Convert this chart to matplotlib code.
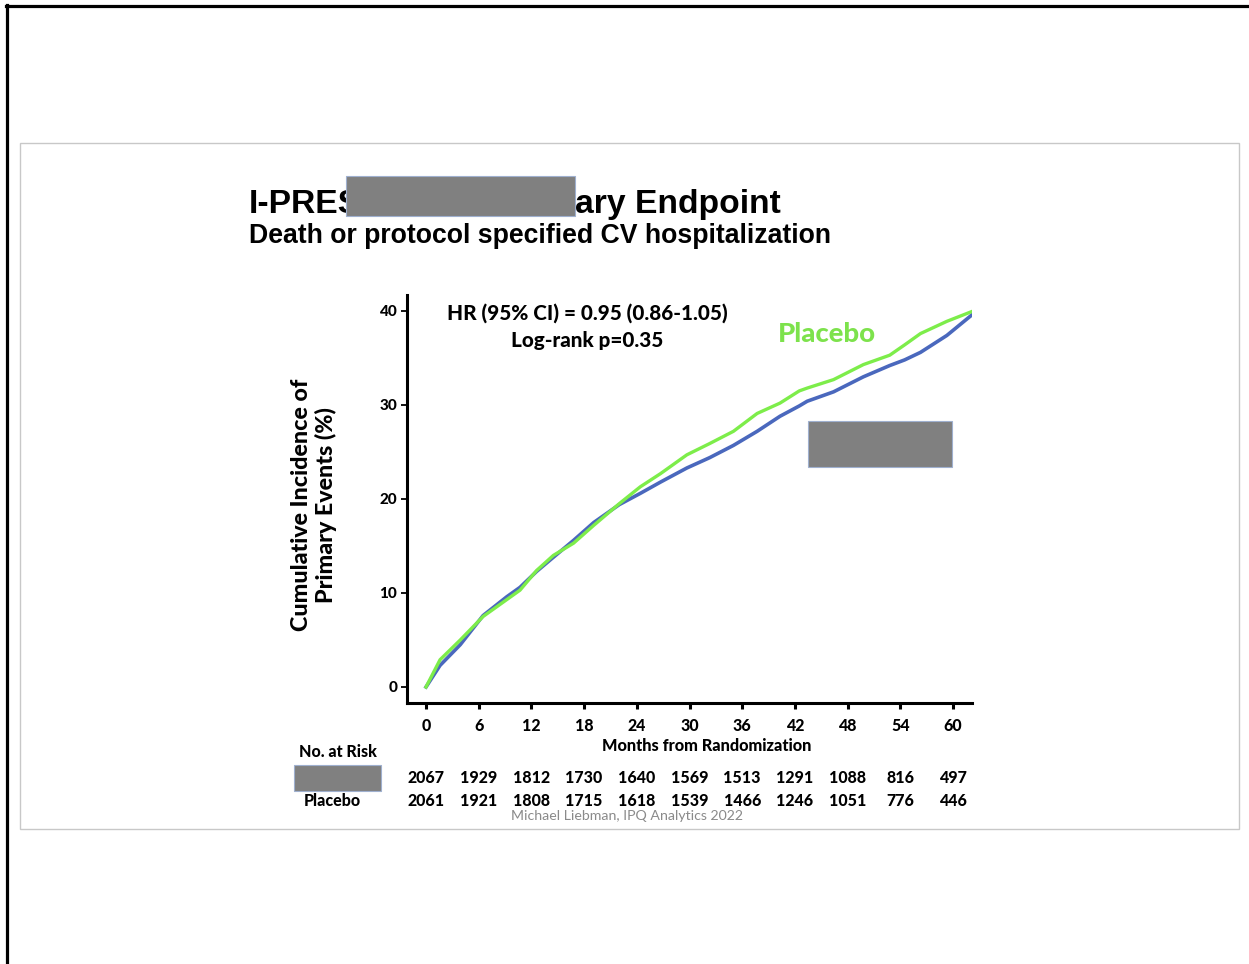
import matplotlib
matplotlib.use("Agg")
import matplotlib.pyplot as plt
from matplotlib.patches import Rectangle
from matplotlib.lines import Line2D
import matplotlib.transforms as mtransforms

# ---------------- data ----------------
months_placebo = [0, 1.6, 3.9, 6.5, 9.2, 10.7, 12.6, 14.5, 16.8, 19.1, 22.0, 24.4, 26.7,
                  29.7, 32.3, 35.0, 37.7, 40.3, 42.5, 43.4, 46.4, 49.8, 52.8, 54.5, 56.3, 59.3, 62.3]
placebo = [0, 2.9, 5.0, 7.5, 9.3, 10.3, 12.4, 14.0, 15.3, 17.2, 19.5, 21.3, 22.7,
           24.7, 25.9, 27.2, 29.1, 30.2, 31.5, 31.8, 32.7, 34.3, 35.3, 36.4, 37.6, 38.9, 40.0]
months_active = [0, 1.6, 3.9, 6.5, 9.2, 10.7, 12.6, 14.5, 16.8, 19.1, 22.0, 24.4, 26.7,
                 29.7, 32.3, 35.0, 37.7, 40.3, 42.5, 43.4, 46.4, 49.8, 52.8, 54.5, 56.3, 59.3, 62.3]
active = [0, 2.3, 4.5, 7.6, 9.6, 10.6, 12.3, 13.8, 15.6, 17.5, 19.4, 20.6, 21.8,
          23.3, 24.4, 25.7, 27.2, 28.8, 29.9, 30.4, 31.4, 33.0, 34.2, 34.8, 35.6, 37.4, 39.7]

x_ticks = [0, 6, 12, 18, 24, 30, 36, 42, 48, 54, 60]
y_ticks = [0, 10, 20, 30, 40]
risk_active = [2067, 1929, 1812, 1730, 1640, 1569, 1513, 1291, 1088, 816, 497]
risk_placebo = [2061, 1921, 1808, 1715, 1618, 1539, 1466, 1246, 1051, 776, 446]

title_left = "I-PRES"
title_right = "ary Endpoint"
subtitle = "Death or protocol specified CV hospitalization"
hr_text = "HR (95% CI) = 0.95 (0.86-1.05)"
logrank_text = "Log-rank p=0.35"
ylabel_text = "Cumulative Incidence of\nPrimary Events (%)"
xlabel_text = "Months from Randomization"
footer = "Michael Liebman, IPQ Analytics 2022"

# ---------------- figure ----------------
W, H = 1249, 964
fig = plt.figure(figsize=(W / 100, H / 100), dpi=100)
fig.patch.set_facecolor("white")


def fx(x):
    return x / W


def fy(y):
    return 1 - y / H


renderer = fig.canvas.get_renderer()


def fit_width(t, target):
    bb = t.get_window_extent(renderer)
    t.set_fontsize(t.get_fontsize() * target / bb.width)


def fit_height(t, target):
    bb = t.get_window_extent(renderer)
    t.set_fontsize(t.get_fontsize() * target / bb.height)


CAL = ["Lato", "DejaVu Sans"]
ARI = ["Liberation Sans", "DejaVu Sans"]
HW = 900  # heavy weight for Calibri-bold look

# frame lines
fig.add_artist(Line2D([fx(6), 1], [fy(6), fy(6)], color="black", lw=2.3))
fig.add_artist(Line2D([fx(7), fx(7)], [fy(5), 0], color="black", lw=2.3))
fig.add_artist(Rectangle((fx(20), fy(829)), fx(1239) - fx(20), (829 - 143) / H,
                         fill=False, edgecolor="#c8c8c8", lw=1.0))

# ---------------- axes ----------------
pxm = (953 - 426) / 60.0
pxv = (687 - 311) / 40.0
ax = fig.add_axes([fx(407), fy(703), (972 - 407) / W, (703 - 295) / H])
ax.set_xlim((407 - 426) / pxm, (972 - 426) / pxm)
ax.set_ylim((687 - 703) / pxv, (687 - 295) / pxv)
ax.plot(months_active, active, color="#4a68bd", lw=2.6, zorder=3, solid_joinstyle="round")
ax.plot(months_placebo, placebo, color="#7ded4a", lw=2.4, zorder=4, solid_joinstyle="round")

for s in ["top", "right"]:
    ax.spines[s].set_visible(False)
for s in ["left", "bottom"]:
    ax.spines[s].set_linewidth(2.2)
    ax.spines[s].set_color("black")

ax.set_xticks(x_ticks)
ax.set_xticklabels([str(v) for v in x_ticks], fontfamily=CAL, fontweight=HW, fontsize=11.5)
ax.set_yticks(y_ticks)
ax.set_yticklabels([str(v) for v in y_ticks], fontfamily=CAL, fontweight=HW, fontsize=11)
ax.tick_params(axis="x", direction="out", length=4, width=2.2, pad=6.5)
ax.tick_params(axis="y", direction="out", length=4, width=1.3, pad=3)

# ---------------- texts ----------------
t = fig.text(fx(249), fy(213), title_left, fontfamily=ARI, fontweight="bold",
             fontsize=26, ha="left", va="baseline")
t2 = fig.text(fx(781), fy(213), title_right, fontfamily=ARI, fontweight="bold",
              fontsize=26, ha="right", va="baseline")
fit_width(t2, 206)
t.set_fontsize(t2.get_fontsize())

st = fig.text(fx(249), fy(243), subtitle, fontfamily=ARI, fontweight="bold",
              fontsize=18, ha="left", va="baseline")
fit_width(st, 583)

hr = fig.text(fx(587), fy(313), hr_text, fontfamily=CAL, fontweight=HW,
              fontsize=15, ha="center", va="center")
fit_width(hr, 281)
lr = fig.text(fx(587), fy(340), logrank_text, fontfamily=CAL, fontweight=HW,
              fontsize=hr.get_fontsize(), ha="center", va="center")

pl = fig.text(fx(827), fy(334), "Placebo", fontfamily=CAL, fontweight=HW,
              fontsize=18, ha="center", va="center", color="#7de24c")
fit_width(pl, 98)

yl = fig.text(fx(314), fy(505), ylabel_text, fontfamily=CAL, fontweight=HW,
              fontsize=15, ha="center", va="center", rotation=90,
              multialignment="center", linespacing=1.15)
fit_height(yl, 254)

xl = fig.text(fx(707), fy(746), xlabel_text, fontfamily=CAL, fontweight=HW,
              fontsize=12, ha="center", va="center")
fit_width(xl, 210)

nr = fig.text(fx(338), fy(752), "No. at Risk", fontfamily=CAL, fontweight=HW,
              fontsize=12, ha="center", va="center")
fit_width(nr, 78)
pr = fig.text(fx(332), fy(801), "Placebo", fontfamily=CAL, fontweight=HW,
              fontsize=nr.get_fontsize(), ha="center", va="center")

blend = mtransforms.blended_transform_factory(ax.transData, fig.transFigure)
for m, a, p in zip(x_ticks, risk_active, risk_placebo):
    fig.text(m, fy(778), str(a), transform=blend, fontfamily=CAL, fontweight=HW,
             fontsize=11.5, ha="center", va="center")
    fig.text(m, fy(801), str(p), transform=blend, fontfamily=CAL, fontweight=HW,
             fontsize=11.5, ha="center", va="center")

ft = fig.text(fx(627), fy(816), footer, fontfamily=CAL, fontsize=10, ha="center",
              va="center", color="#8a8a8a")
fit_width(ft, 232)

# ---------------- redaction boxes ----------------
for (x0, y0, x1, y1) in [(346, 176, 575, 216), (808, 421, 952, 467), (294, 765, 381, 791)]:
    fig.add_artist(Rectangle((fx(x0), fy(y1)), (x1 - x0) / W, (y1 - y0) / H,
                             facecolor="#808080", edgecolor="#9fb0cf", lw=0.8, zorder=10))

fig.savefig("out.png", dpi=100, facecolor="white")
